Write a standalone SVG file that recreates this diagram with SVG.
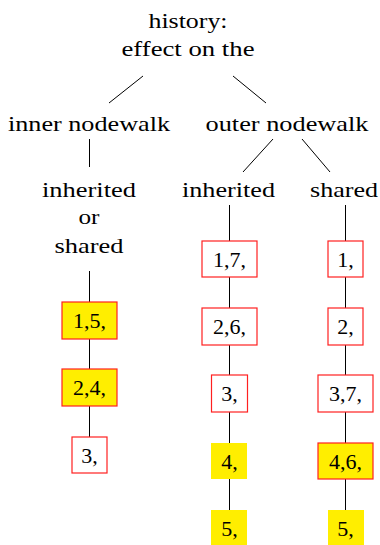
<svg xmlns="http://www.w3.org/2000/svg" width="380" height="545" viewBox="0 0 380 545">
<defs>
<style>
.box{fill:#fff;stroke:#ff2020;stroke-width:1.2}
.hl{fill:#ffee00;stroke:#ff2020;stroke-width:1.2}
.hn{fill:#ffee00;stroke:none}
.edge{stroke:#000;stroke-width:1;fill:none}
</style>
</defs>
<rect width="380" height="545" fill="#fff"/>
<g id="connectors">
<line class="edge" x1="143" y1="76" x2="109" y2="103"/>
<line class="edge" x1="233" y1="76" x2="266" y2="103"/>
<line class="edge" x1="89.5" y1="139" x2="89.5" y2="167"/>
<line class="edge" x1="273" y1="139" x2="243" y2="172"/>
<line class="edge" x1="302" y1="139" x2="330" y2="172"/>
<line class="edge" x1="89.5" y1="271" x2="89.5" y2="302"/>
<line class="edge" x1="89.5" y1="339" x2="89.5" y2="369"/>
<line class="edge" x1="89.5" y1="406" x2="89.5" y2="437"/>
<line class="edge" x1="229.5" y1="205" x2="229.5" y2="241"/>
<line class="edge" x1="229.5" y1="277" x2="229.5" y2="308"/>
<line class="edge" x1="229.5" y1="345" x2="229.5" y2="375"/>
<line class="edge" x1="229.5" y1="412" x2="229.5" y2="443"/>
<line class="edge" x1="229.5" y1="479" x2="229.5" y2="510"/>
<line class="edge" x1="345.5" y1="205" x2="345.5" y2="241"/>
<line class="edge" x1="345.5" y1="277" x2="345.5" y2="308"/>
<line class="edge" x1="345.5" y1="345" x2="345.5" y2="375"/>
<line class="edge" x1="345.5" y1="412" x2="345.5" y2="443"/>
<line class="edge" x1="345.5" y1="479" x2="345.5" y2="510"/>
</g>
<g id="root"><text font-family="Liberation Serif" font-size="22" text-anchor="middle" x="188" y="28" textLength="79" lengthAdjust="spacingAndGlyphs">history:</text><text font-family="Liberation Serif" font-size="22" text-anchor="middle" x="188" y="56" textLength="133" lengthAdjust="spacingAndGlyphs">effect on the</text></g>
<g id="inner"><text font-family="Liberation Serif" font-size="22" text-anchor="middle" x="89" y="131" textLength="162" lengthAdjust="spacingAndGlyphs">inner nodewalk</text></g>
<g id="outer"><text font-family="Liberation Serif" font-size="22" text-anchor="middle" x="287" y="131" textLength="163" lengthAdjust="spacingAndGlyphs">outer nodewalk</text></g>
<g id="inner-inh"><text font-family="Liberation Serif" font-size="22" text-anchor="middle" x="89" y="197" textLength="94" lengthAdjust="spacingAndGlyphs">inherited</text><text font-family="Liberation Serif" font-size="22" text-anchor="middle" x="89" y="224" textLength="21" lengthAdjust="spacingAndGlyphs">or</text><text font-family="Liberation Serif" font-size="22" text-anchor="middle" x="89" y="253" textLength="69" lengthAdjust="spacingAndGlyphs">shared</text></g>
<g id="outer-inh"><text font-family="Liberation Serif" font-size="22" text-anchor="middle" x="228.5" y="197" textLength="93" lengthAdjust="spacingAndGlyphs">inherited</text></g>
<g id="outer-sh"><text font-family="Liberation Serif" font-size="22" text-anchor="middle" x="344" y="197" textLength="68" lengthAdjust="spacingAndGlyphs">shared</text></g>
<g id="L1"><rect class="hl" x="62" y="302" width="55" height="37"/><text font-family="Liberation Serif" font-size="22" text-anchor="middle" x="89.5" y="328">1,5,</text></g>
<g id="L2"><rect class="hl" x="62" y="369" width="55" height="37"/><text font-family="Liberation Serif" font-size="22" text-anchor="middle" x="89.5" y="395">2,4,</text></g>
<g id="L3"><rect class="box" x="72" y="437" width="35" height="36"/><text font-family="Liberation Serif" font-size="22" text-anchor="middle" x="89.5" y="463">3,</text></g>
<g id="M1"><rect class="box" x="202" y="241" width="55" height="36"/><text font-family="Liberation Serif" font-size="22" text-anchor="middle" x="229.5" y="267">1,7,</text></g>
<g id="M2"><rect class="box" x="202" y="308" width="55" height="37"/><text font-family="Liberation Serif" font-size="22" text-anchor="middle" x="229.5" y="334">2,6,</text></g>
<g id="M3"><rect class="box" x="211.5" y="375" width="36" height="37"/><text font-family="Liberation Serif" font-size="22" text-anchor="middle" x="229.5" y="401">3,</text></g>
<g id="M4"><rect class="hn" x="211" y="443" width="36" height="36"/><text font-family="Liberation Serif" font-size="22" text-anchor="middle" x="229.5" y="469">4,</text></g>
<g id="M5"><rect class="hn" x="211" y="510" width="36" height="36"/><text font-family="Liberation Serif" font-size="22" text-anchor="middle" x="229.5" y="536">5,</text></g>
<g id="R1"><rect class="box" x="328" y="241" width="35" height="36"/><text font-family="Liberation Serif" font-size="22" text-anchor="middle" x="345.5" y="267">1,</text></g>
<g id="R2"><rect class="box" x="328" y="308" width="35" height="37"/><text font-family="Liberation Serif" font-size="22" text-anchor="middle" x="345.5" y="334">2,</text></g>
<g id="R3"><rect class="box" x="318" y="375" width="55" height="37"/><text font-family="Liberation Serif" font-size="22" text-anchor="middle" x="345.5" y="401">3,7,</text></g>
<g id="R4"><rect class="hl" x="318" y="443" width="55" height="36"/><text font-family="Liberation Serif" font-size="22" text-anchor="middle" x="345.5" y="469">4,6,</text></g>
<g id="R5"><rect class="hn" x="328" y="510" width="36" height="36"/><text font-family="Liberation Serif" font-size="22" text-anchor="middle" x="345.5" y="536">5,</text></g>
</svg>
